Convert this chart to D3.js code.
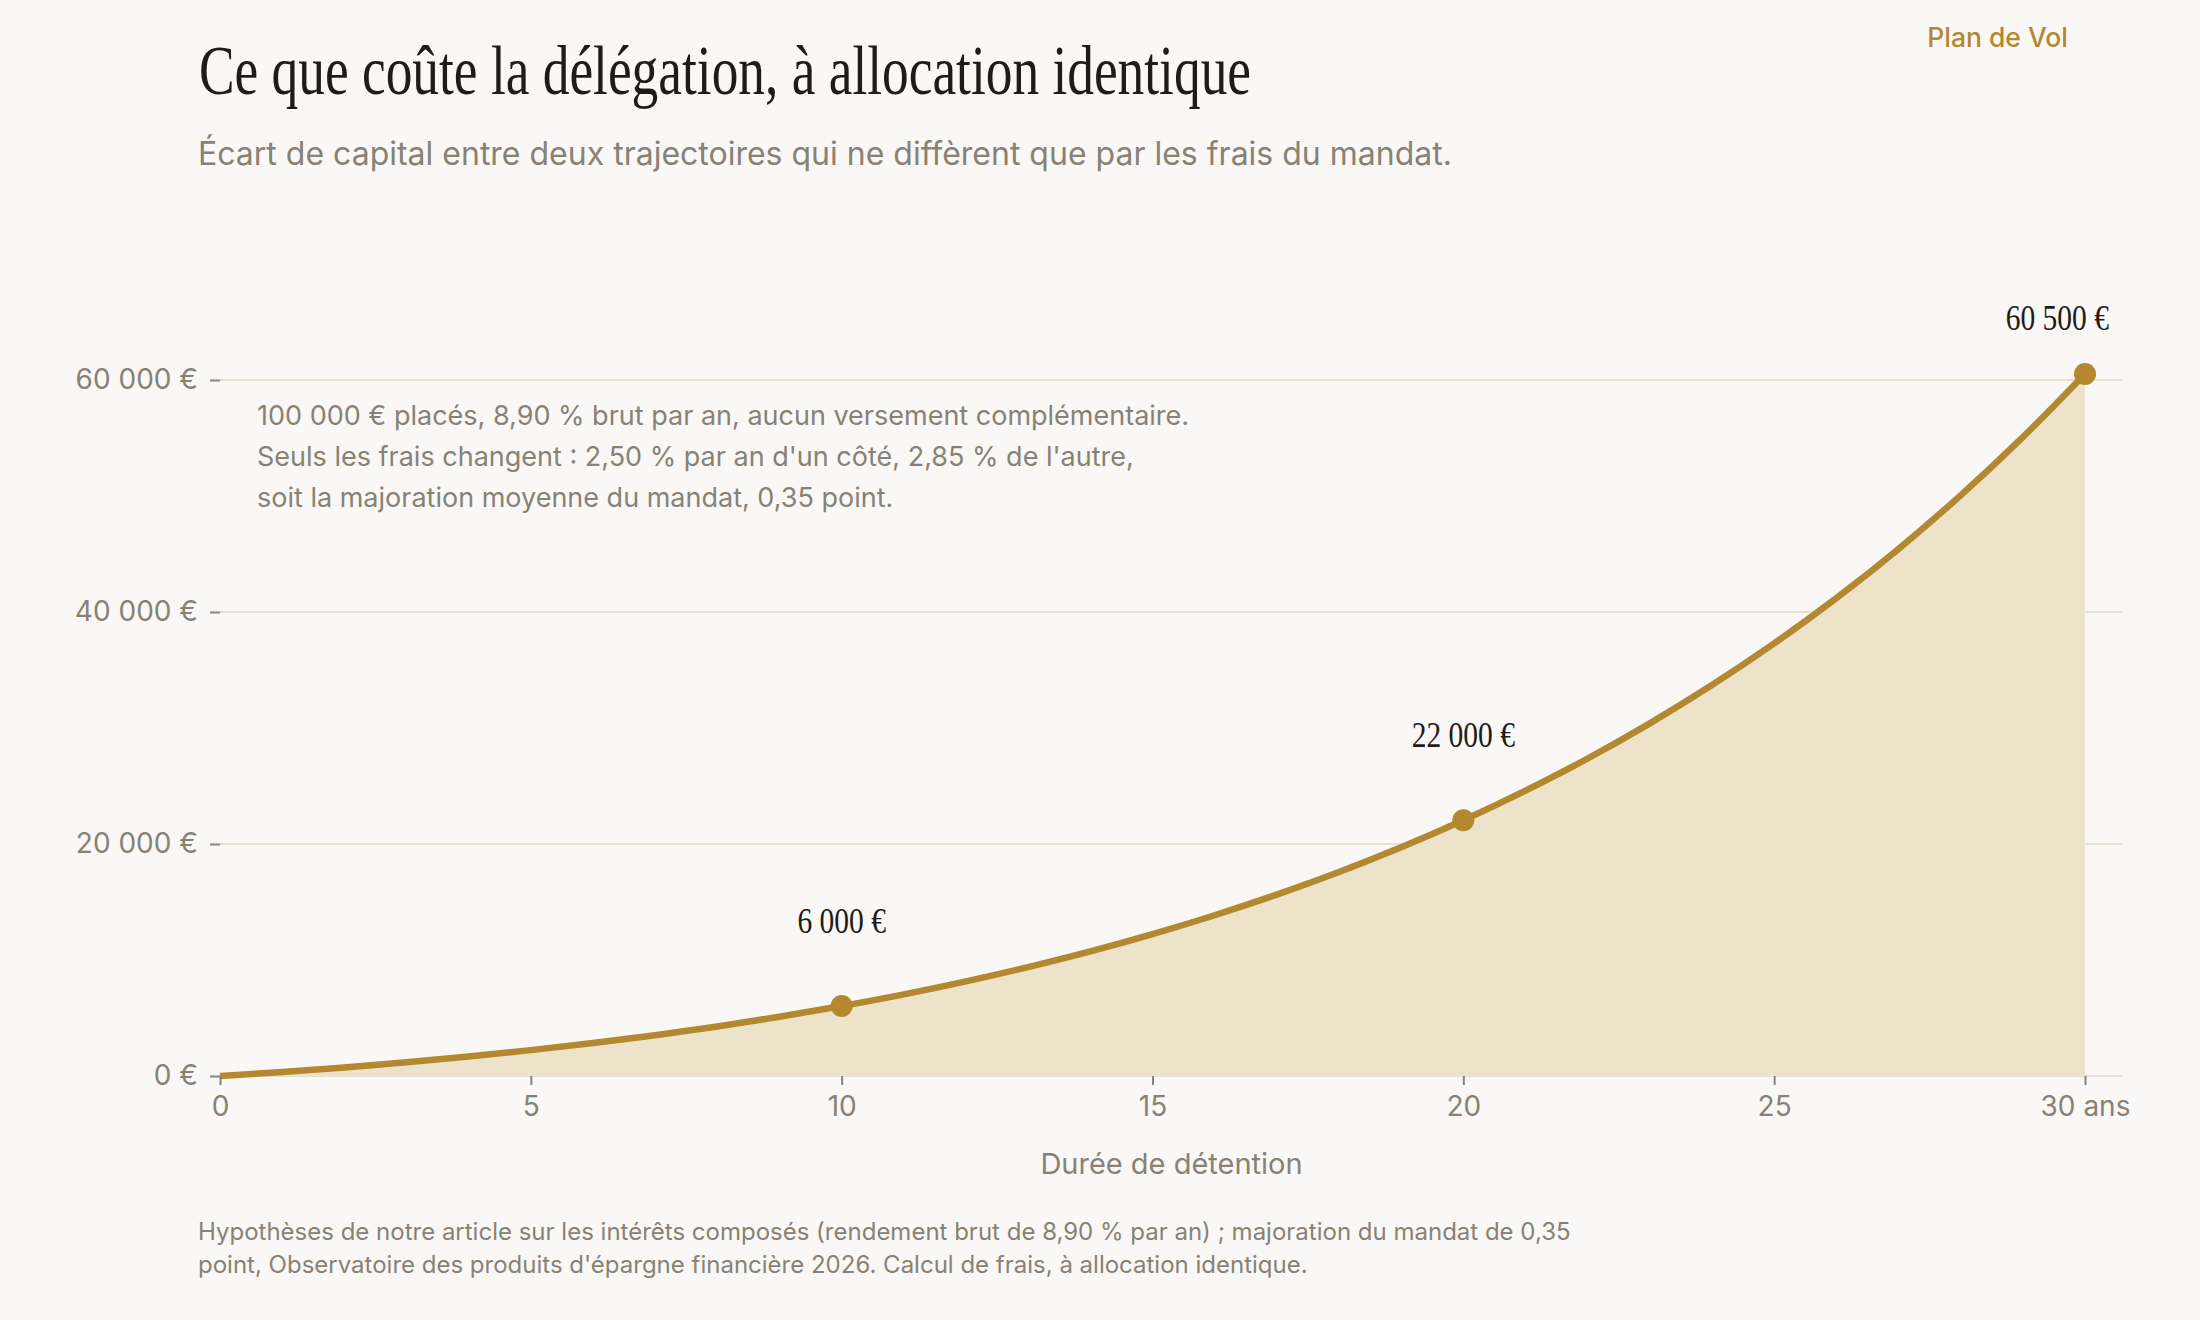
<!DOCTYPE html>
<html lang="fr">
<head>
<meta charset="utf-8">
<script src="https://cdn.jsdelivr.net/npm/d3@7"></script>
<style>
  body { margin: 0; background: #f9f8f6; }
  svg { display: block; }
  .sans { font-family: Inter, "Noto Sans", sans-serif; }
  .serif { font-family: "Liberation Serif", "DejaVu Serif", serif; }
</style>
</head>
<body>
<script>
// ecart de capital (EUR) par annee de detention
const years = d3.range(0, 31)
const gap = [
  0, 350, 740, 1190, 1680, 2230, 2840, 3520, 4270, 5110,
  6030, 7040, 8160, 9390, 10740, 12230, 13860, 15640, 17590, 19720,
  22050, 24600, 27370, 30400, 33700, 37290, 41190, 45440, 50060, 55080,
  60520
]
const markYears = [10, 20, 30]
const markLabels = ['6 000 €', '22 000 €', '60 500 €']
const yTicks = [0, 20000, 40000, 60000]
const xTicks = [0, 5, 10, 15, 20, 25, 30]

const noteLines = [
  '100 000 € placés, 8,90 % brut par an, aucun versement complémentaire.',
  'Seuls les frais changent : 2,50 % par an d\'un côté, 2,85 % de l\'autre,',
  'soit la majoration moyenne du mandat, 0,35 point.'
]
const footLines = [
  'Hypothèses de notre article sur les intérêts composés (rendement brut de 8,90 % par an) ; majoration du mandat de 0,35',
  'point, Observatoire des produits d\'épargne financière 2026. Calcul de frais, à allocation identique.'
]

const width = 2200
const height = 1320
const gold = '#b3882f'
const grey = '#878275'

const fr = d3.formatLocale({decimal: ',', thousands: '\u00a0', grouping: [3], currency: ['', '\u00a0€']})
const fmt = fr.format('$,.0f')

const svg = d3.select('body')
  .append('svg')
  .attr('width', width)
  .attr('height', height)

svg.append('rect')
  .attr('width', width)
  .attr('height', height)
  .attr('fill', '#f9f8f6')

const xScale = d3.scaleLinear()
  .domain([0, 30])
  .range([220, 2085])

const yScale = d3.scaleLinear()
  .domain([0, 60000])
  .range([1076, 380])

const gridRight = 2123

// grille
svg.append('g')
  .selectAll('line')
  .data(yTicks)
  .enter()
  .append('line')
  .attr('x1', xScale(0))
  .attr('x2', gridRight)
  .attr('y1', d => yScale(d))
  .attr('y2', d => yScale(d))
  .attr('stroke', '#e6e0d2')
  .attr('stroke-width', 2)

// aire + courbe
const data = years.map((y, i) => [y, gap[i]])

svg.append('path')
  .datum(data)
  .attr('fill', '#ede2ca')
  .attr('d', d3.area()
    .x(d => xScale(d[0]))
    .y0(yScale(0))
    .y1(d => yScale(d[1]))
    .curve(d3.curveMonotoneX))

svg.append('path')
  .datum(data)
  .attr('fill', 'none')
  .attr('stroke', gold)
  .attr('stroke-width', 6.5)
  .attr('stroke-linejoin', 'round')
  .attr('d', d3.line()
    .x(d => xScale(d[0]))
    .y(d => yScale(d[1]))
    .curve(d3.curveMonotoneX))

// axes
const yAxis = svg.append('g')
  .attr('class', 'sans')
  .attr('transform', `translate(${xScale(0)},0)`)
  .call(d3.axisLeft(yScale).tickValues(yTicks).tickSize(10).tickPadding(12).tickFormat(fmt))
yAxis.select('.domain').remove()

const xAxis = svg.append('g')
  .attr('class', 'sans')
  .attr('transform', `translate(0,${yScale(0)})`)
  .call(d3.axisBottom(xScale).tickValues(xTicks).tickSize(9).tickPadding(11)
    .tickFormat(d => d === 30 ? '30 ans' : d))
xAxis.select('.domain').remove()

svg.selectAll('.tick line').attr('stroke', grey).attr('stroke-width', 2)
svg.selectAll('.tick text')
  .attr('fill', grey)
  .attr('font-size', 28)
  .attr('font-family', 'Inter, sans-serif')

svg.append('text')
  .attr('class', 'sans')
  .attr('x', (xScale(0) + gridRight) / 2)
  .attr('y', 1174)
  .attr('text-anchor', 'middle')
  .attr('font-size', 29)
  .attr('fill', grey)
  .text('Durée de détention')

// points marqués
const marks = markYears.map((y, i) => ({x: y, v: gap[years.indexOf(y)], label: markLabels[i]}))

svg.selectAll('circle.mark')
  .data(marks)
  .enter()
  .append('circle')
  .attr('class', 'mark')
  .attr('cx', d => xScale(d.x))
  .attr('cy', d => yScale(d.v))
  .attr('r', 11)
  .attr('fill', gold)

svg.selectAll('text.mark')
  .data(marks)
  .enter()
  .append('text')
  .attr('class', 'mark serif')
  .attr('transform', (d, i) => {
    const last = i === marks.length - 1
    const x = last ? xScale(d.x) + 24 : xScale(d.x)
    const y = yScale(d.v) - (last ? 44 : 73)
    return `translate(${x},${y}) scale(0.82,1)`
  })
  .attr('text-anchor', (d, i) => i === marks.length - 1 ? 'end' : 'middle')
  .attr('font-size', 36)
  .attr('fill', '#1f1c18')
  .text(d => d.label)

// note dans le graphique
svg.append('g')
  .selectAll('text')
  .data(noteLines)
  .enter()
  .append('text')
  .attr('class', 'sans')
  .attr('x', 257)
  .attr('y', (d, i) => 425 + i * 41)
  .attr('font-size', 27)
  .attr('fill', grey)
  .text(d => d)

// titre
svg.append('text')
  .attr('class', 'serif')
  .attr('x', 199)
  .attr('y', 94)
  .attr('font-size', 70)
  .attr('textLength', 1052)
  .attr('lengthAdjust', 'spacingAndGlyphs')
  .attr('fill', '#1f1c18')
  .text('Ce que coûte la délégation, à allocation identique')

svg.append('text')
  .attr('class', 'sans')
  .attr('x', 198)
  .attr('y', 165)
  .attr('font-size', 32)
  .attr('fill', grey)
  .text('Écart de capital entre deux trajectoires qui ne diffèrent que par les frais du mandat.')

svg.append('text')
  .attr('class', 'sans')
  .attr('x', 2068)
  .attr('y', 47)
  .attr('text-anchor', 'end')
  .attr('font-size', 26.5)
  .attr('font-weight', 500)
  .attr('fill', gold)
  .text('Plan de Vol')

// source
svg.append('g')
  .selectAll('text')
  .data(footLines)
  .enter()
  .append('text')
  .attr('class', 'sans')
  .attr('x', 198)
  .attr('y', (d, i) => 1240 + i * 33)
  .attr('font-size', 24)
  .attr('fill', grey)
  .text(d => d)
</script>
</body>
</html>
